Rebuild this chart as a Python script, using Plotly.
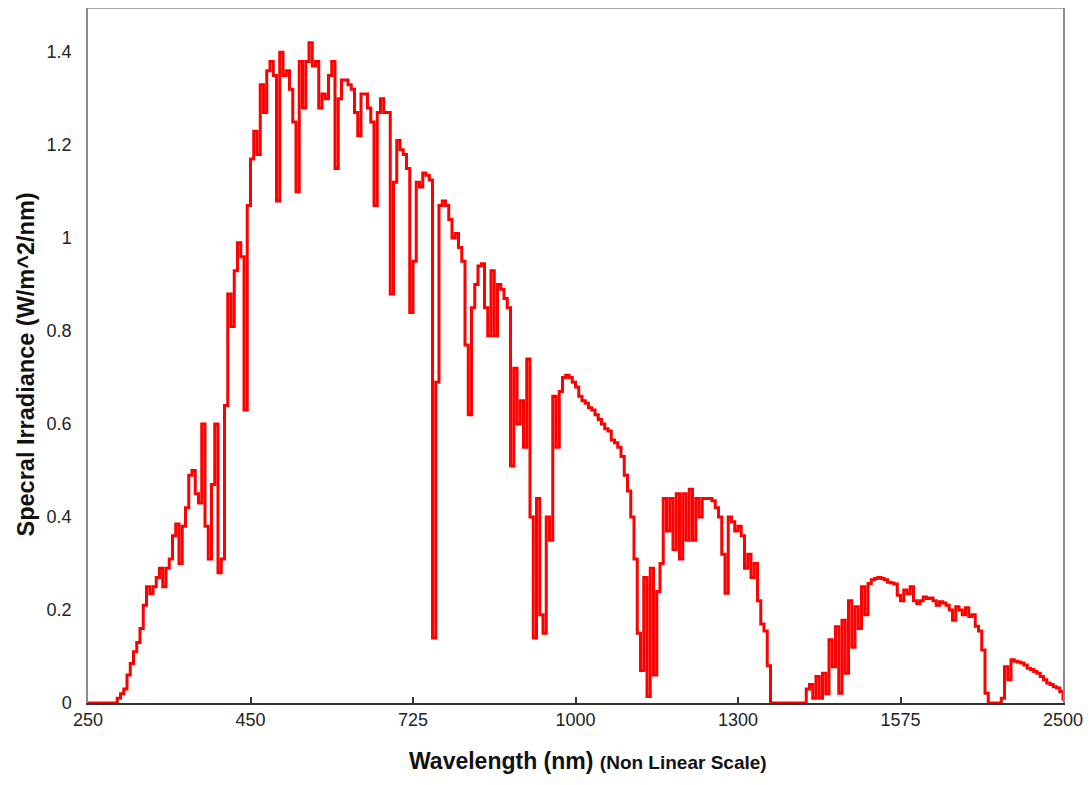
"""
Solar spectral irradiance vs wavelength (non linear x axis)
"""

import plotly.graph_objects as go

# tick labels on the (non linear) wavelength axis
wavelength_labels = ["250", "450", "725", "1000", "1300", "1575", "2500"]
y_tick_vals = [0, 0.2, 0.4, 0.6, 0.8, 1.0, 1.2, 1.4]
y_tick_text = ["0", "0.2", "0.4", "0.6", "0.8", "1", "1.2", "1.4"]

# irradiance (W/m^2/nm), one list per labelled interval of the axis
seg_250_450 = [0, 0, 0, 0, 0, 0, 0, 0, 0,
               0.01, 0.02, 0.03, 0.06, 0.085, 0.11, 0.13, 0.16, 0.21, 0.25,
               0.235, 0.25, 0.27, 0.29, 0.25, 0.29, 0.31, 0.36, 0.385, 0.30,
               0.38, 0.42, 0.49, 0.50, 0.45, 0.43, 0.60, 0.38, 0.31, 0.47,
               0.60, 0.28, 0.31, 0.64, 0.88, 0.81, 0.93, 0.99, 0.96, 0.63,
               1.07, 1.17]
seg_450_725 = [1.23, 1.18, 1.33, 1.27, 1.36, 1.38, 1.35, 1.08, 1.40, 1.35,
               1.36, 1.32, 1.25, 1.10, 1.38, 1.28, 1.38, 1.42, 1.37, 1.38,
               1.28, 1.31, 1.30, 1.35, 1.38, 1.15, 1.30, 1.34, 1.34, 1.33,
               1.32, 1.27, 1.22, 1.31, 1.31, 1.28, 1.25, 1.07, 1.27, 1.30,
               1.27, 1.27, 0.88, 1.12, 1.21, 1.19, 1.18, 1.15, 0.84, 0.95]
seg_725_1000 = [1.12, 1.11, 1.14, 1.135, 1.125, 0.14, 0.69, 1.07, 1.08, 1.07,
                1.04, 1.00, 1.01, 0.98, 0.95, 0.77, 0.62, 0.85, 0.90, 0.94,
                0.945, 0.85, 0.79, 0.93, 0.79, 0.90, 0.89, 0.87, 0.85, 0.51,
                0.72, 0.60, 0.65, 0.55, 0.74, 0.40, 0.14, 0.44, 0.19, 0.15,
                0.40, 0.35, 0.66, 0.55, 0.67, 0.70, 0.705, 0.70, 0.69, 0.68]
seg_1000_1300 = [0.66, 0.65, 0.645, 0.635, 0.63, 0.62, 0.61, 0.60, 0.59, 0.585,
                 0.566, 0.56, 0.55, 0.53, 0.49, 0.456, 0.40, 0.31, 0.15, 0.07,
                 0.27, 0.014, 0.29, 0.06, 0.24, 0.30, 0.44, 0.37, 0.44, 0.33,
                 0.45, 0.31, 0.45, 0.35, 0.46, 0.35, 0.44, 0.40, 0.44, 0.44,
                 0.44, 0.435, 0.42, 0.40, 0.32, 0.236, 0.40, 0.39, 0.37, 0.38]
seg_1300_1575 = [0.36, 0.29, 0.32, 0.27, 0.30, 0.22, 0.17, 0.155, 0.08, 0.0,
                 0, 0, 0, 0, 0, 0, 0, 0, 0, 0,
                 0.03, 0.04, 0.01, 0.057, 0.01, 0.064, 0.02, 0.136, 0.078, 0.164,
                 0.021, 0.178, 0.064, 0.22, 0.12, 0.207, 0.16, 0.25, 0.19, 0.257,
                 0.265, 0.268, 0.27, 0.268, 0.265, 0.26, 0.258, 0.256, 0.232, 0.22]
seg_1575_2500 = [0.243, 0.235, 0.25, 0.22, 0.214, 0.22, 0.228, 0.225, 0.226, 0.22,
                 0.21, 0.218, 0.215, 0.21, 0.20, 0.178, 0.207, 0.20, 0.19, 0.205,
                 0.186, 0.19, 0.165, 0.155, 0.114, 0.021, 0, 0, 0, 0,
                 0.01, 0.078, 0.05, 0.093, 0.09, 0.088, 0.086, 0.082, 0.075, 0.072,
                 0.068, 0.064, 0.057, 0.05, 0.043, 0.04, 0.035, 0.032, 0.025, 0.005]

irradiance = (seg_250_450 + seg_450_725 + seg_725_1000
              + seg_1000_1300 + seg_1300_1575 + seg_1575_2500)
sample_idx = list(range(len(irradiance)))
last = len(irradiance) - 1
tick_pos = [last * k / (len(wavelength_labels) - 1) for k in range(len(wavelength_labels))]

FONT = "Liberation Sans, Arial, sans-serif"
AXIS_DARK = "#333333"
FRAME_GREY = "#8C8C8C"

fig = go.Figure(go.Scatter(
    x=sample_idx, y=irradiance, mode="lines",
    line=dict(color="#FF0000", width=3.0, shape="hv"),
    hoverinfo="skip", showlegend=False
))

# page body has an 8px margin, so the figure is sized a bit smaller
fig.update_layout(
    width=1076, height=769,
    paper_bgcolor="white", plot_bgcolor="white",
    margin=dict(l=80, r=21, t=0, b=74, autoexpand=False),
    font=dict(family=FONT, size=18, color="#222222"),
    xaxis=dict(
        range=[0, last], tickvals=tick_pos, ticktext=wavelength_labels,
        ticks="inside", ticklen=6, tickwidth=1.5, tickcolor=AXIS_DARK,
        showline=True, linecolor=AXIS_DARK, linewidth=1.5,
        showgrid=False, zeroline=False,
    ),
    xaxis2=dict(
        range=[0, last], overlaying="x", anchor="y", side="bottom",
        tickvals=tick_pos, showticklabels=False,
        ticks="outside", ticklen=6, tickwidth=1.5, tickcolor=AXIS_DARK,
        showline=False, showgrid=False, zeroline=False,
    ),
    yaxis=dict(
        range=[0, 1.495], tickvals=y_tick_vals, ticktext=y_tick_text,
        ticks="", ticklabelstandoff=11,
        showline=True, linecolor=FRAME_GREY, linewidth=1.5, mirror=True,
        showgrid=False, zeroline=False,
    ),
    shapes=[dict(type="line", xref="paper", yref="paper", x0=0, x1=1, y0=1, y1=1,
                 line=dict(color=FRAME_GREY, width=1.5))],
    annotations=[
        dict(text="<b>Wavelength (nm)</b> <b><span style='font-size:19px'>(Non Linear Scale)</span></b>",
             xref="paper", yref="paper", x=0.5, y=0, xanchor="center", yanchor="middle",
             xshift=12, yshift=-58, showarrow=False,
             font=dict(size=23, color="#111111")),
        dict(text="<b>Specral Irradiance (W/m^2/nm)</b>",
             xref="paper", yref="paper", x=0, y=0.5, xanchor="center", yanchor="middle",
             xshift=-63, yshift=-9, textangle=-90, showarrow=False,
             font=dict(size=23.5, color="#111111")),
    ],
)

fig.write_html("out.html")
